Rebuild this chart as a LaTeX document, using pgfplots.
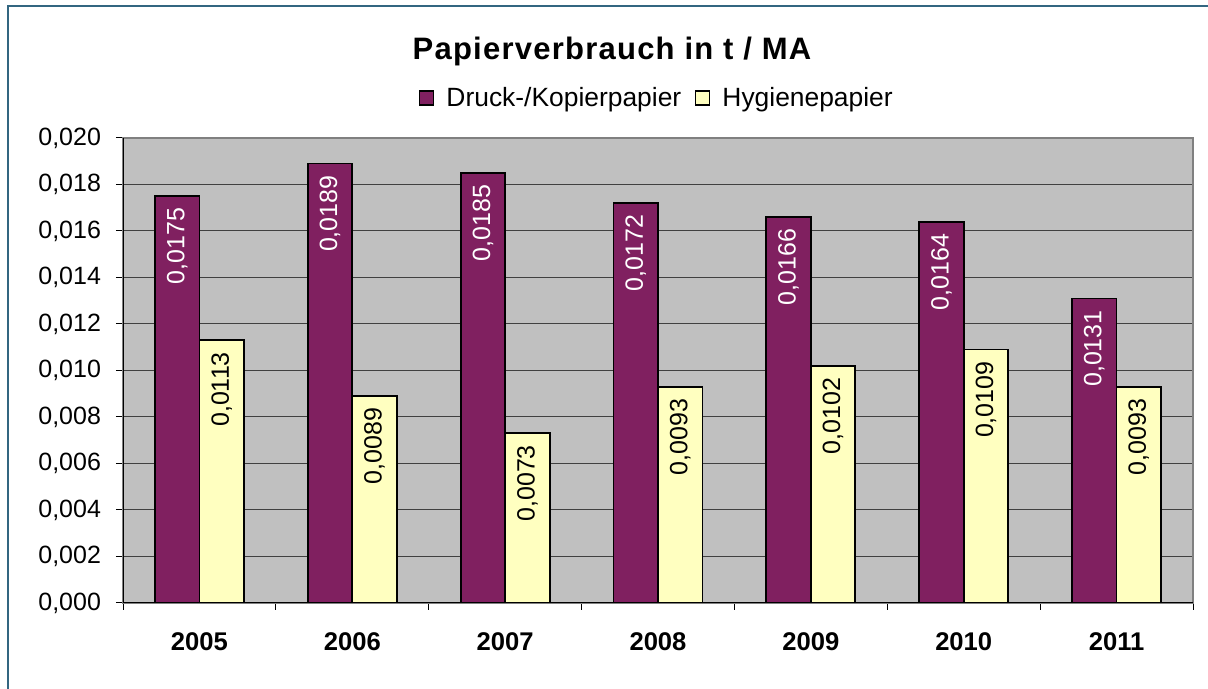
\documentclass[border=0pt]{standalone}
\usepackage{fontspec}
\setmainfont{Liberation Sans}
\usepackage{pgfplots}
\pgfplotsset{compat=1.18}
\definecolor{plum}{HTML}{802060}
\definecolor{lyel}{HTML}{FFFFC0}
\definecolor{pbg}{HTML}{C0C0C0}
\definecolor{frame}{HTML}{336680}
\begin{document}
\begin{tikzpicture}[font=\fontsize{12.5}{15}\selectfont]
\useasboundingbox (0,0) rectangle (604pt,344.5pt);
\draw[frame, line width=0.8pt] (4pt,-2pt) -- (4pt,341.5pt) -- (610pt,341.5pt);
\node[font=\fontsize{15.5}{18}\selectfont\bfseries\addfontfeatures{LetterSpace=4}] at (306pt,319pt) {Papierverbrauch in t / MA};
\begin{axis}[
  at={(61.5pt,43pt)}, anchor=south west,
  scale only axis, width=535pt, height=232.5pt,
  ybar=0pt, bar width=22.25pt,
  xmin=-0.5, xmax=6.5, ymin=0, ymax=0.020,
  xtick={-0.5,0.5,...,6.5}, x tick label as interval,
  xticklabels={2005,2006,2007,2008,2009,2010,2011},
  xticklabel style={font=\fontsize{12.8}{15}\selectfont\bfseries, yshift=-8pt},
  ytick={0,0.002,...,0.0201},
  yticklabel style={/pgf/number format/.cd, fixed, fixed zerofill, precision=3, use comma, /tikz/.cd, xshift=-4pt},
  /pgf/number format/assume math mode=true,
  scaled y ticks=false,
  xtick pos=bottom, ytick pos=left,
  tick align=outside, major tick length=3.5pt,
  tick style={black, line width=0.5pt},
  ymajorgrids, major grid style={black!75, line width=0.5pt},
  axis background/.style={fill=pbg},
  axis line style={black!50, line width=1pt},
  nodes near coords,
  nodes near coords style={/pgf/number format/.cd, fixed, fixed zerofill, precision=4, use comma, /tikz/.cd,
    rotate=90, anchor=east, inner xsep=5.5pt, inner ysep=0pt},
  legend style={at={(0.5,1.086)}, anchor=center, draw=none, fill=none,
    legend columns=2, /tikz/every even column/.append style={column sep=5pt},
    /tikz/every odd column/.append style={column sep=4pt},
    font=\fontsize{13.2}{15}\selectfont},
  legend cell align=left,
  legend image code/.code={\draw[#1, line width=0.6pt] (0pt,-3.5pt) rectangle (7pt,3.5pt);},
]
\addplot[fill=plum, draw=black, line width=0.9pt, every node near coord/.append style={text=white}]
  coordinates {(0,0.0175) (1,0.0189) (2,0.0185) (3,0.0172) (4,0.0166) (5,0.0164) (6,0.0131)};
\addplot[fill=lyel, draw=black, line width=0.9pt, every node near coord/.append style={text=black}]
  coordinates {(0,0.0113) (1,0.0089) (2,0.0073) (3,0.0093) (4,0.0102) (5,0.0109) (6,0.0093)};
\legend{Druck-/Kopierpapier, Hygienepapier}
\draw[black, line width=0.6pt] (rel axis cs:0,1) -- (rel axis cs:0,0) -- (rel axis cs:1,0);
\end{axis}
\end{tikzpicture}
\end{document}
